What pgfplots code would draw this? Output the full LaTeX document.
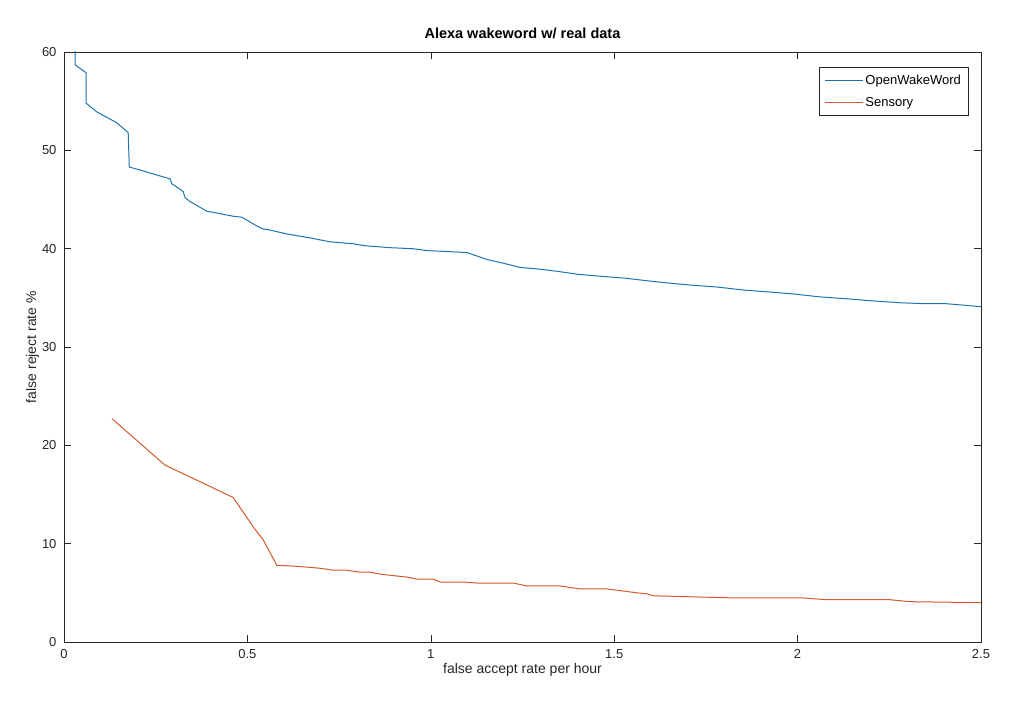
\documentclass[border=0pt]{standalone}
\usepackage{fontspec}
\setmainfont{Liberation Sans}
\usepackage{pgfplots}
\pgfplotsset{compat=1.18}
\definecolor{mblue}{RGB}{30,115,178}
\definecolor{morange}{RGB}{210,90,45}
\definecolor{maxis}{rgb}{0.15,0.15,0.15}
\begin{document}
\begin{tikzpicture}[x=1pt,y=1pt]
\path[fill=white] (0,0) rectangle (1022,712);
\begin{axis}[
  at={(64pt,70pt)}, anchor=south west,
  scale only axis, width=917pt, height=590pt,
  xmin=0, xmax=2.5, ymin=0, ymax=60,
  xtick={0,0.5,1,1.5,2,2.5},
  xticklabels={0,0.5,1,1.5,2,2.5},
  ytick={0,10,20,30,40,50,60},
  tick align=inside,
  major tick length=7pt,
  axis line style={maxis, line width=0.6pt},
  tick style={maxis, line width=0.6pt},
  every tick label/.append style={font=\fontsize{13}{15}\selectfont, text=maxis},
  /pgf/number format/assume math mode=true,
  xticklabel style={yshift=-4pt},
  yticklabel style={xshift=-4pt},
  xlabel={false accept rate per hour},
  ylabel={false reject rate \%},
  xlabel style={font=\fontsize{14}{16}\selectfont, text=maxis, yshift=2pt},
  ylabel style={font=\fontsize{14}{16}\selectfont, text=maxis, yshift=-4pt},
  title={\textbf{Alexa wakeword w/ real data}},
  title style={font=\fontsize{14.5}{17}\selectfont, yshift=4pt},
  legend style={at={(0.986,0.975)}, anchor=north east, draw=maxis, line width=0.6pt,
    font=\fontsize{13}{15}\selectfont, inner xsep=5pt, inner ysep=6pt, row sep=7pt},
  legend cell align=left,
  legend image code/.code={\draw[#1] (0pt,0pt) -- (38pt,0pt);},
  clip=true,
]
\addplot[mblue, line width=1pt] coordinates {
(0.030,60.5) (0.030,58.7) (0.060,57.9) (0.060,54.8) (0.090,53.9) (0.144,52.8)
(0.175,51.8) (0.178,48.3) (0.207,48.0) (0.234,47.7) (0.289,47.1) (0.294,46.6)
(0.310,46.2) (0.325,45.8) (0.330,45.2) (0.343,44.8) (0.390,43.8) (0.406,43.7)
(0.461,43.3) (0.485,43.2) (0.526,42.3) (0.543,42.0) (0.561,41.9) (0.607,41.5)
(0.670,41.1) (0.725,40.7) (0.788,40.5) (0.820,40.3) (0.889,40.1) (0.950,40.0)
(0.990,39.8) (1.050,39.7) (1.099,39.6) (1.153,38.9) (1.200,38.5) (1.243,38.1)
(1.300,37.9) (1.344,37.7) (1.400,37.4) (1.461,37.2) (1.530,37.0) (1.598,36.7)
(1.650,36.5) (1.707,36.3) (1.780,36.1) (1.851,35.8) (1.920,35.6) (1.987,35.4)
(2.060,35.1) (2.135,34.9) (2.200,34.7) (2.279,34.5) (2.350,34.4) (2.407,34.4)
(2.500,34.1)
};
\addlegendentry{OpenWakeWord}
\addplot[morange, line width=1pt] coordinates {
(0.131,22.7) (0.275,18.0) (0.461,14.7) (0.520,11.5) (0.543,10.4) (0.580,7.8)
(0.635,7.7) (0.698,7.5) (0.734,7.3) (0.770,7.3) (0.807,7.1) (0.834,7.1)
(0.862,6.9) (0.935,6.6) (0.962,6.4) (1.007,6.4) (1.025,6.1) (1.088,6.1)
(1.126,6.0) (1.224,6.0) (1.262,5.7) (1.352,5.7) (1.407,5.4) (1.480,5.4)
(1.562,5.0) (1.589,4.9) (1.606,4.7) (1.807,4.5) (2.007,4.5) (2.080,4.3)
(2.252,4.3) (2.306,4.1) (2.500,4.0)
};
\addlegendentry{Sensory}
\end{axis}
\end{tikzpicture}
\end{document}
